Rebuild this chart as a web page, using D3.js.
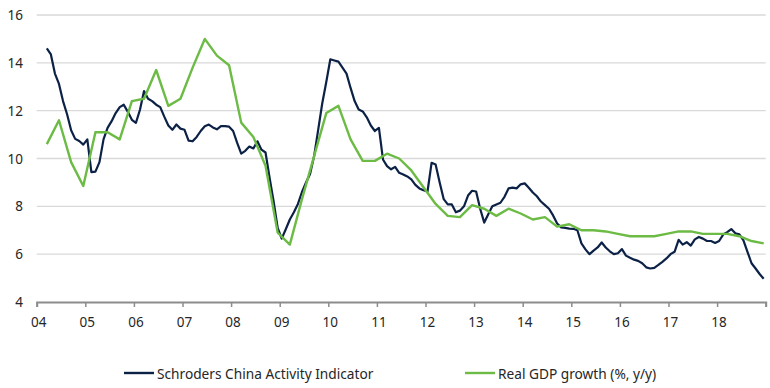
<!DOCTYPE html>
<html>
<head>
<meta charset="utf-8">
<script src="https://d3js.org/d3.v7.min.js"></script>
<style>
  body { margin:0; background:#fff; font-family:"Noto Sans", "Open Sans", sans-serif; }
  svg { display:block; }
  .grid line { stroke:#d9d9d9; stroke-width:1.3px; }
  .tick-label { font-size:13.5px; fill:#262626; }
  .legend-text { font-size:13.7px; fill:#262626; }
</style>
</head>
<body>
<div id="chart"></div>
<script>
// Schroders China Activity Indicator, monthly, Mar 2004 - Dec 2018
const scaiStart = [2004, 3];
const scai = [
  14.6, 14.35, 13.55, 13.12, 12.4, 11.85, 11.18, 10.82, 10.73, 10.58,
  10.8, 9.43, 9.45, 9.85, 10.8, 11.28, 11.56, 11.9, 12.15, 12.25, 11.95, 11.62,
  11.49, 12.04, 12.82, 12.5, 12.4, 12.25, 12.15, 11.75, 11.38, 11.2, 11.42, 11.25,
  11.2, 10.75, 10.72, 10.9, 11.15, 11.35, 11.42, 11.3, 11.22, 11.35, 11.35, 11.33,
  11.15, 10.65, 10.2, 10.32, 10.5, 10.42, 10.72, 10.37, 10.25, 9.2, 8.2, 7.1,
  6.65, 7.04, 7.45, 7.75, 8.1, 8.6, 9.0, 9.35, 10.1, 11.2, 12.3, 13.2,
  14.15, 14.1, 14.05, 13.8, 13.55, 12.95, 12.4, 12.05, 11.97, 11.72, 11.38, 11.15,
  11.28, 9.96, 9.68, 9.55, 9.65, 9.4, 9.33, 9.25, 9.13, 8.9, 8.75, 8.67,
  8.62, 9.82, 9.75, 9.0, 8.3, 8.08, 8.08, 7.75, 7.82, 8.0, 8.45, 8.65,
  8.62, 7.9, 7.32, 7.67, 8.0, 8.08, 8.15, 8.4, 8.75, 8.78, 8.75, 8.92,
  8.96, 8.78, 8.58, 8.42, 8.2, 8.05, 7.9, 7.62, 7.28, 7.12, 7.1, 7.07,
  7.06, 7.0, 6.45, 6.2, 6.0, 6.15, 6.28, 6.49, 6.28, 6.12, 6.0, 6.04,
  6.21, 5.94, 5.85, 5.77, 5.72, 5.62, 5.45, 5.4, 5.43, 5.55, 5.68, 5.82,
  6.0, 6.1, 6.6, 6.4, 6.5, 6.36, 6.62, 6.72, 6.65, 6.55, 6.55, 6.47,
  6.55, 6.82, 6.92, 7.05, 6.87, 6.83, 6.58, 6.1, 5.62, 5.4, 5.17, 4.97
];

// Real GDP growth (%, y/y), quarterly, Q1 2004 - Q4 2018
const gdpStart = [2004, 3];
const gdp = [
  10.6, 11.6, 9.85, 8.85,
  11.1, 11.1, 10.8, 12.4,
  12.5, 13.7, 12.2, 12.5,
  13.8, 15.0, 14.3, 13.9,
  11.5, 10.9, 9.7, 6.9,
  6.4, 8.3, 10.1, 11.9,
  12.2, 10.8, 9.9, 9.9,
  10.2, 10.0, 9.5, 8.8,
  8.1, 7.6, 7.55, 8.05,
  7.9, 7.6, 7.9, 7.7,
  7.45, 7.55, 7.15, 7.25,
  7.0, 7.0, 6.95, 6.85,
  6.75, 6.75, 6.75, 6.85,
  6.95, 6.95, 6.85, 6.85,
  6.85, 6.75, 6.55, 6.45
];

const yearLabels = ["04","05","06","07","08","09","10","11","12","13","14","15","16","17","18"];
const yTicks = [4, 6, 8, 10, 12, 14, 16];
const seriesNames = ["Schroders China Activity Indicator", "Real GDP growth (%, y/y)"];
const colors = ["#0c2146", "#6cbb45"];

const width = 770, height = 388;
const margin = { left: 36.7, right: 4.3, top: 15, bottom: 86 };

// points sit in the middle of their month
const monthPos = (y, m) => y + (m - 1) / 12 + 1 / 24;
const scaiData = scai.map((v, i) => {
  const mi = scaiStart[1] - 1 + i;
  return { t: monthPos(scaiStart[0] + Math.floor(mi / 12), (mi % 12) + 1), v };
});
const gdpData = gdp.map((v, i) => {
  const mi = gdpStart[1] - 1 + i * 3;
  return { t: monthPos(gdpStart[0] + Math.floor(mi / 12), (mi % 12) + 1), v };
});

const svg = d3.select("#chart").append("svg").attr("width", width).attr("height", height);

const x = d3.scaleLinear().domain([2004, 2019]).range([margin.left, width - margin.right]);
const y = d3.scaleLinear().domain([4, 16]).range([height - margin.bottom, margin.top]);

// gridlines
svg.append("g").attr("class", "grid")
  .selectAll("line").data(yTicks.filter(d => d > 4)).enter().append("line")
  .attr("x1", x(2004)).attr("x2", x(2019))
  .attr("y1", d => y(d)).attr("y2", d => y(d));

// y labels
svg.append("g").selectAll("text").data(yTicks).enter().append("text")
  .attr("class", "tick-label")
  .attr("x", 23).attr("y", d => y(d))
  .attr("text-anchor", "end").attr("dominant-baseline", "central")
  .text(d => d);

// x axis
const xAxis = d3.axisBottom(x)
  .tickValues(d3.range(2004, 2020))
  .tickSize(5)
  .tickFormat("");
const gx = svg.append("g").attr("transform", `translate(0,${y(4)})`).call(xAxis);
gx.select(".domain").attr("stroke", "#8c8c8c").attr("stroke-width", 2);
gx.selectAll(".tick line").attr("stroke", "#8c8c8c").attr("stroke-width", 1.5);

svg.append("g").selectAll("text").data(yearLabels).enter().append("text")
  .attr("class", "tick-label")
  .attr("x", (d, i) => x(2004 + i) + 2)
  .attr("y", y(4) + 20)
  .attr("text-anchor", "middle").attr("dominant-baseline", "central")
  .text(d => d);

// lines
const line = d3.line().x(d => x(d.t)).y(d => y(d.v));
svg.append("path").datum(scaiData)
  .attr("fill", "none").attr("stroke", colors[0]).attr("stroke-width", 2.2)
  .attr("stroke-linejoin", "round").attr("d", line);
svg.append("path").datum(gdpData)
  .attr("fill", "none").attr("stroke", colors[1]).attr("stroke-width", 2.4)
  .attr("stroke-linejoin", "round").attr("d", line);

// legend
const legendItems = [
  { name: seriesNames[0], color: colors[0], x: 124 },
  { name: seriesNames[1], color: colors[1], x: 465 }
];
const lg = svg.append("g").selectAll("g").data(legendItems).enter().append("g")
  .attr("transform", d => `translate(${d.x},373)`);
lg.append("line").attr("x1", 0).attr("x2", 30).attr("y1", 0).attr("y2", 0)
  .attr("stroke", d => d.color).attr("stroke-width", 2.4);
lg.append("text").attr("class", "legend-text")
  .attr("x", 33).attr("y", 0).attr("dominant-baseline", "central")
  .text(d => d.name);
</script>
</body>
</html>
